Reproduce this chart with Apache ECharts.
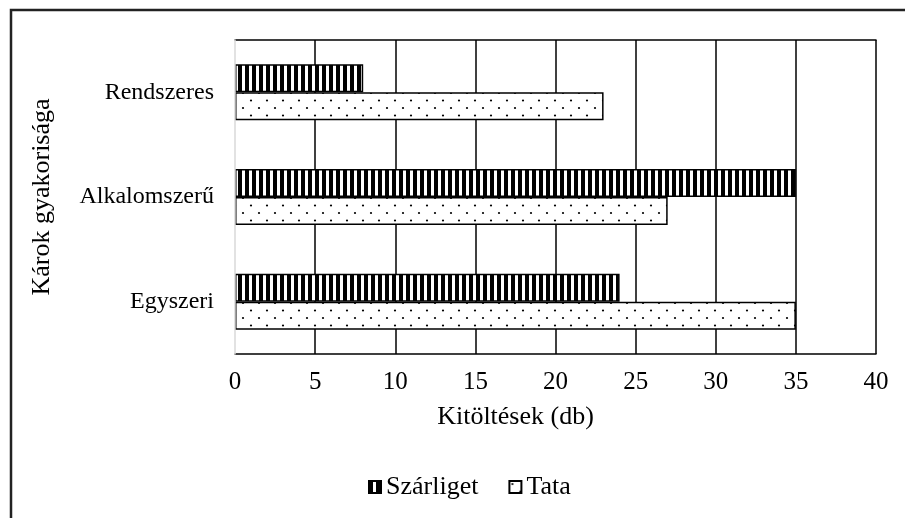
<!DOCTYPE html>
<html>
<head>
<meta charset="utf-8">
<script src="https://cdn.jsdelivr.net/npm/echarts@6/dist/echarts.min.js"></script>
<style>
  html, body { margin: 0; padding: 0; background: #fff; }
  #chart { width: 905px; height: 518px; }
</style>
</head>
<body>
<div id="chart"></div>
<script>
// Damage frequency categories (bottom to top on the axis)
const categories = ['Egyszeri', 'Alkalomszerű', 'Rendszeres'];
const seriesNames = ['Szárliget', 'Tata'];
const szarligetValues = [24, 35, 8];
const tataValues = [35, 27, 23];
const xTicks = [0, 5, 10, 15, 20, 25, 30, 35, 40];

const FONT = '"Liberation Serif", "DejaVu Serif", serif';

// Vertical stripe fill
function stripePattern() {
  const c = document.createElement('canvas');
  c.width = 7; c.height = 4;
  const g = c.getContext('2d');
  g.fillStyle = '#fff'; g.fillRect(0, 0, 7, 4);
  g.fillStyle = '#000'; g.fillRect(0, 0, 4, 4);
  return c;
}
// Staggered dot fill
function dotPattern() {
  const c = document.createElement('canvas');
  c.width = 16; c.height = 15;
  const g = c.getContext('2d');
  g.fillStyle = '#fff'; g.fillRect(0, 0, 16, 15);
  g.fillStyle = '#000';
  g.beginPath(); g.arc(3, 3, 1.1, 0, Math.PI * 2); g.fill();
  g.beginPath(); g.arc(11, 10.5, 1.1, 0, Math.PI * 2); g.fill();
  return c;
}

const chart = echarts.init(document.getElementById('chart'), null, { renderer: 'canvas' });

const barStyle = (img) => ({
  color: { image: img, repeat: 'repeat' },
  borderColor: '#000',
  borderWidth: 1.5
});

chart.setOption({
  animation: false,
  backgroundColor: '#fff',
  textStyle: { fontFamily: FONT, color: '#000' },
  grid: { left: 235, right: 29, top: 40, bottom: 164, containLabel: false },
  graphic: [{
    type: 'rect',
    shape: { x: 11, y: 10, width: 920, height: 540 },
    style: { fill: 'none', stroke: '#222', lineWidth: 2.5 },
    silent: true
  }],
  legend: {
    top: 474,
    left: 368,
    padding: 0,
    itemWidth: 12,
    itemHeight: 12,
    itemGap: 30,
    textStyle: { fontFamily: FONT, fontSize: 26, color: '#000' },
    data: seriesNames.map(n => ({ name: n, icon: 'rect' }))
  },
  xAxis: [{
    type: 'value',
    min: 0, max: 40, interval: 5,
    name: 'Kitöltések (db)',
    nameLocation: 'middle',
    nameGap: 50,
    nameTextStyle: { fontFamily: FONT, fontSize: 26, color: '#000', padding: [0, 80, 0, 0] },
    axisLine: { show: true, lineStyle: { color: '#000', width: 1.5 } },
    axisTick: { show: false },
    axisLabel: {
      fontFamily: FONT, fontSize: 25, color: '#000', margin: 16,
      formatter: v => xTicks.includes(v) ? String(v) : ''
    },
    splitLine: { show: true, showMinLine: false, lineStyle: { color: '#000', width: 1.5 } }
  }, {
    type: 'value',
    position: 'top',
    min: 0, max: 40, interval: 5,
    axisLine: { show: true, lineStyle: { color: '#000', width: 1.5 } },
    axisTick: { show: false },
    axisLabel: { show: false },
    splitLine: { show: false }
  }],
  yAxis: {
    type: 'category',
    data: categories,
    name: 'Károk gyakorisága',
    nameLocation: 'middle',
    nameGap: 180,
    nameRotate: 90,
    nameTextStyle: { fontFamily: FONT, fontSize: 26, color: '#000' },
    axisLine: { show: true, lineStyle: { color: '#d9d9d9', width: 1.5 } },
    axisTick: { show: false },
    axisLabel: { fontFamily: FONT, fontSize: 24, color: '#000', margin: 21 },
    splitLine: { show: false },
    z: 5
  },
  series: [{
    name: seriesNames[0],
    type: 'bar',
    data: szarligetValues,
    barWidth: 28,
    barGap: '0%',
    itemStyle: barStyle(stripePattern())
  }, {
    name: seriesNames[1],
    type: 'bar',
    data: tataValues,
    barWidth: 28,
    barGap: '0%',
    itemStyle: barStyle(dotPattern())
  }]
});
</script>
</body>
</html>
